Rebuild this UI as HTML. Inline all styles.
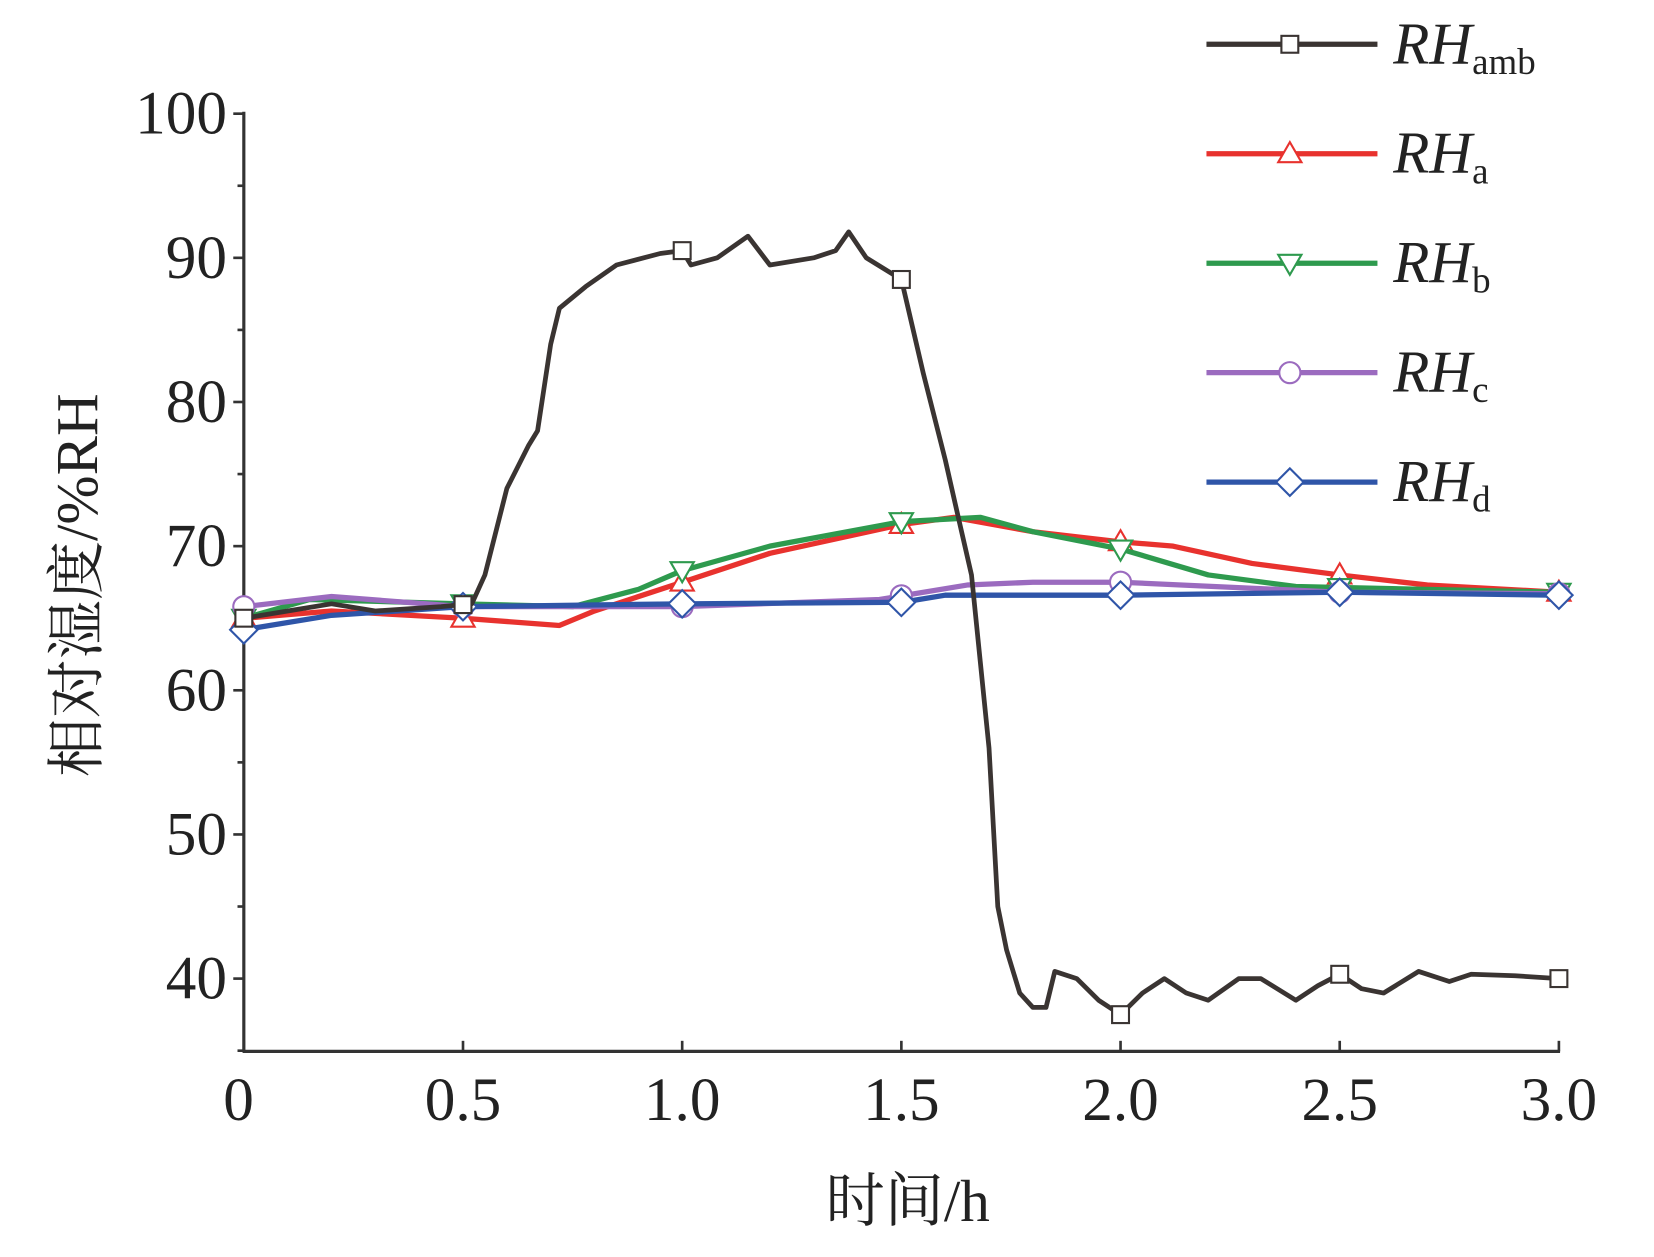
<!DOCTYPE html>
<html><head><meta charset="utf-8"><style>
html,body{margin:0;padding:0;background:#fff;}
svg{display:block;}
text{font-family:"Liberation Serif","Noto Serif CJK SC",serif;fill:#222;}
</style></head><body>
<svg id="s" width="1654" height="1257" viewBox="0 0 1567 1192" preserveAspectRatio="none" xmlns="http://www.w3.org/2000/svg">
<rect width="1567" height="1192" fill="#fff"/>
<g id="axes" stroke="#333" stroke-width="3" fill="none">
<line x1="231" y1="106" x2="231" y2="998"/>
<line x1="230" y1="997" x2="1478" y2="997"/>
</g>
<g id="ticks" stroke="#333" stroke-width="2.5"></g>
<g id="labels" font-size="58"></g>
<text x="860" y="1158" font-size="56" text-anchor="middle">时间/h</text>
<text transform="translate(92,555) rotate(-90)" font-size="56" text-anchor="middle">相对湿度/%RH</text>
<g id="series"></g>
<g id="legend"></g>
</svg>
<script>
var NS="http://www.w3.org/2000/svg";
function X(t){return 231+t*415.3;}
function Y(v){return 928-(v-40)*13.67;}
function el(tag,attrs,parent,txt){var e=document.createElementNS(NS,tag);for(var k in attrs)e.setAttribute(k,attrs[k]);if(txt)e.textContent=txt;parent.appendChild(e);return e;}
var ticks=document.getElementById('ticks'),labels=document.getElementById('labels');
for(var v=35;v<=100;v+=5){var y=Y(v);el('line',{x1:(v%10==0?221:225),y1:y,x2:231,y2:y},ticks);}
for(var v=40;v<=100;v+=10){el('text',{x:215,y:Y(v)+19,'text-anchor':'end'},labels,String(v));}
var xl=['0','0.5','1.0','1.5','2.0','2.5','3.0'];
for(var i=0;i<7;i++){var x=X(i*0.5);el('line',{x1:x,y1:997,x2:x,y2:987},ticks);el('text',{x:(i==0?226:x),y:1062,'text-anchor':'middle'},labels,xl[i]);}
var data={
k:[[0,65],[0.1,65.5],[0.2,66],[0.3,65.5],[0.45,65.8],[0.52,66],[0.55,68],[0.6,74],[0.65,77],[0.67,78],[0.7,84],[0.72,86.5],[0.78,88],[0.85,89.5],[0.95,90.3],[1.0,90.5],[1.02,89.5],[1.08,90],[1.15,91.5],[1.2,89.5],[1.3,90],[1.35,90.5],[1.38,91.8],[1.42,90],[1.5,88.5],[1.55,82],[1.6,76],[1.63,72],[1.66,68],[1.68,62],[1.7,56],[1.72,45],[1.74,42],[1.77,39],[1.8,38],[1.83,38],[1.85,40.5],[1.9,40],[1.95,38.5],[2.0,37.5],[2.05,39],[2.1,40],[2.15,39],[2.2,38.5],[2.27,40],[2.32,40],[2.4,38.5],[2.45,39.5],[2.5,40.3],[2.55,39.3],[2.6,39],[2.68,40.5],[2.75,39.8],[2.8,40.3],[2.9,40.2],[3.0,40]],
r:[[0,65],[0.2,65.5],[0.5,65],[0.72,64.5],[0.8,65.5],[1.0,67.5],[1.2,69.5],[1.5,71.5],[1.62,72],[1.8,71],[2.0,70.3],[2.12,70],[2.3,68.8],[2.5,68],[2.7,67.3],[3,66.8]],
g:[[0,65],[0.15,66.3],[0.5,66],[0.75,65.8],[0.9,67],[1.0,68.3],[1.2,70],[1.5,71.7],[1.68,72],[1.8,71],[2.0,69.8],[2.2,68],[2.4,67.2],[3,66.8]],
p:[[0,65.8],[0.2,66.5],[0.5,65.8],[1.0,65.8],[1.45,66.3],[1.65,67.3],[1.8,67.5],[2.0,67.5],[2.5,66.8],[3,66.7]],
b:[[0,64.2],[0.2,65.2],[0.5,65.8],[1.0,66],[1.5,66.1],[1.6,66.6],[2.0,66.6],[2.5,66.8],[3,66.6]]};
var cols={k:'#3a3432',r:'#e8322e',g:'#2e9a4e',p:'#9b6bbf',b:'#2f55a8'};
var mk={k:'sq',r:'tri',g:'dtri',p:'circ',b:'dia'};
function interp(a,t){for(var i=1;i<a.length;i++){if(t<=a[i][0]){var f=(t-a[i-1][0])/(a[i][0]-a[i-1][0]);return a[i-1][1]+f*(a[i][1]-a[i-1][1]);}}return a[a.length-1][1];}
function marker(type,x,y,c,parent){var a={fill:'#fff',stroke:c,'stroke-width':2};
if(type=='sq'){a.x=x-8;a.y=y-8;a.width=16;a.height=16;el('rect',a,parent);}
else if(type=='tri'){a.points=(x)+','+(y-11)+' '+(x-11)+','+(y+8)+' '+(x+11)+','+(y+8);el('polygon',a,parent);}
else if(type=='dtri'){a.points=(x)+','+(y+11)+' '+(x-11)+','+(y-8)+' '+(x+11)+','+(y-8);el('polygon',a,parent);}
else if(type=='circ'){a.cx=x;a.cy=y;a.r=10;el('circle',a,parent);}
else {a.points=x+','+(y-13)+' '+(x+13)+','+y+' '+x+','+(y+13)+' '+(x-13)+','+y;el('polygon',a,parent);}}
var S=document.getElementById('series');
['r','g','p','b','k'].forEach(function(k){
var pts=data[k].map(function(p){return X(p[0]).toFixed(1)+','+Y(p[1]).toFixed(1);}).join(' ');
el('polyline',{points:pts,fill:'none',stroke:cols[k],'stroke-width':(k=='k'?4.5:5),'stroke-linejoin':'round'},S);
for(var i=0;i<7;i++){var t=i*0.5;marker(mk[k],X(t),Y(interp(data[k],t)),cols[k],S);}
});
var L=document.getElementById('legend');
var names=[['k','amb'],['r','a'],['g','b'],['p','c'],['b','d']];
names.forEach(function(n,i){var y=42+i*103.8;
el('line',{x1:1143,y1:y,x2:1305,y2:y,stroke:cols[n[0]],'stroke-width':5},L);
marker(mk[n[0]],1222,y,cols[n[0]],L);
var t=el('text',{x:1320,y:y+18,'font-size':56,'font-style':'italic'},L,'RH');
el('tspan',{'font-size':35,'font-style':'normal',dy:10},t,n[1]);
});
</script>
</body></html>
